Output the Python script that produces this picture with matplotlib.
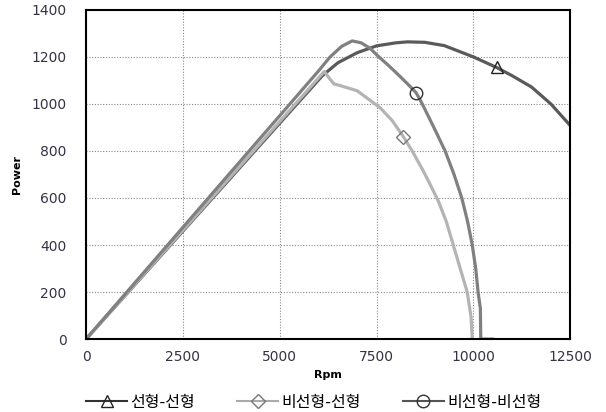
import matplotlib
matplotlib.use("Agg")
import matplotlib.pyplot as plt

plt.rcParams["font.family"] = ["DejaVu Sans", "Noto Sans CJK KR"]

# power vs rpm for the three motor model combinations
rpm_lin_lin = [0, 6100, 6500, 7000, 7500, 8000, 8300, 8750, 9250, 10000,
               10600, 11000, 11500, 12000, 12500]
pow_lin_lin = [0, 1120, 1175, 1218, 1247, 1260, 1264, 1262, 1248, 1200,
               1155, 1120, 1072, 1000, 908]

rpm_nl_lin = [0, 6150, 6300, 6400, 6560, 7000, 7590, 7900, 8190, 8420,
              8700, 8900, 9100, 9300, 9480, 9650, 9840, 9940, 9970]
pow_nl_lin = [0, 1138, 1105, 1085, 1078, 1056, 984, 930, 861, 800,
              717, 652, 585, 500, 400, 305, 200, 93, 0]

rpm_nl_nl = [0, 6000, 6300, 6600, 6870, 7100, 7330, 7540, 7800, 8100,
             8350, 8520, 8680, 9000, 9270, 9500, 9700, 9850, 9970, 10060,
             10120, 10180, 10190, 10500]
pow_nl_nl = [0, 1140, 1200, 1245, 1268, 1260, 1237, 1203, 1165, 1118,
             1077, 1048, 1000, 893, 800, 700, 600, 500, 400, 300,
             200, 130, 0, 0]

labels = ["선형-선형", "비선형-선형", "비선형-비선형"]
x_ticks = [0, 2500, 5000, 7500, 10000, 12500]
y_ticks = [0, 200, 400, 600, 800, 1000, 1200, 1400]

fig = plt.figure(figsize=(6.06, 4.12), dpi=100)
ax = fig.add_axes([0.142, 0.177, 0.799, 0.799])

ax.plot(rpm_lin_lin, pow_lin_lin, color="#5a5a5a", lw=2.3, marker="^",
        markevery=[rpm_lin_lin.index(10600)], label=labels[0],
        markersize=9, markerfacecolor="none", markeredgecolor="#222222",
        markeredgewidth=1.0)
ax.plot(rpm_nl_lin, pow_nl_lin, color="#b4b4b4", lw=2.3, marker="D",
        markevery=[rpm_nl_lin.index(8190)], label=labels[1],
        markersize=7, markerfacecolor="none", markeredgecolor="#777777",
        markeredgewidth=1.0)
ax.plot(rpm_nl_nl, pow_nl_nl, color="#808080", lw=2.3, marker="o",
        markevery=[rpm_nl_nl.index(8520)], label=labels[2],
        markersize=9, markerfacecolor="none", markeredgecolor="#333333",
        markeredgewidth=1.0)

ax.set_xlim(0, 12500)
ax.set_ylim(0, 1400)
ax.set_xticks(x_ticks)
ax.set_yticks(y_ticks)
ax.tick_params(length=0, labelsize=10, labelcolor="#333344")
ax.tick_params(axis="x", pad=8)
ax.tick_params(axis="y", pad=14)
ax.grid(True, color="#888888", linestyle=(0, (1, 1.5)), linewidth=0.8)
for side in ax.spines.values():
    side.set_linewidth(1.5)
    side.set_color("black")

ax.set_xlabel("Rpm", fontsize=8, fontweight="bold", labelpad=4)
ax.set_ylabel("Power", fontsize=8, fontweight="bold", labelpad=7)

leg = ax.legend(loc="upper center", bbox_to_anchor=(0.47, -0.125), ncol=3,
                frameon=False, fontsize=11.5, handlelength=2.6,
                handletextpad=0.2, columnspacing=2.6, numpoints=1)
for line, c in zip(leg.get_lines(), ["#333333", "#aaaaaa", "#555555"]):
    line.set_color(c)
    line.set_linewidth(1.5)

fig.savefig("out.png", dpi=100)
